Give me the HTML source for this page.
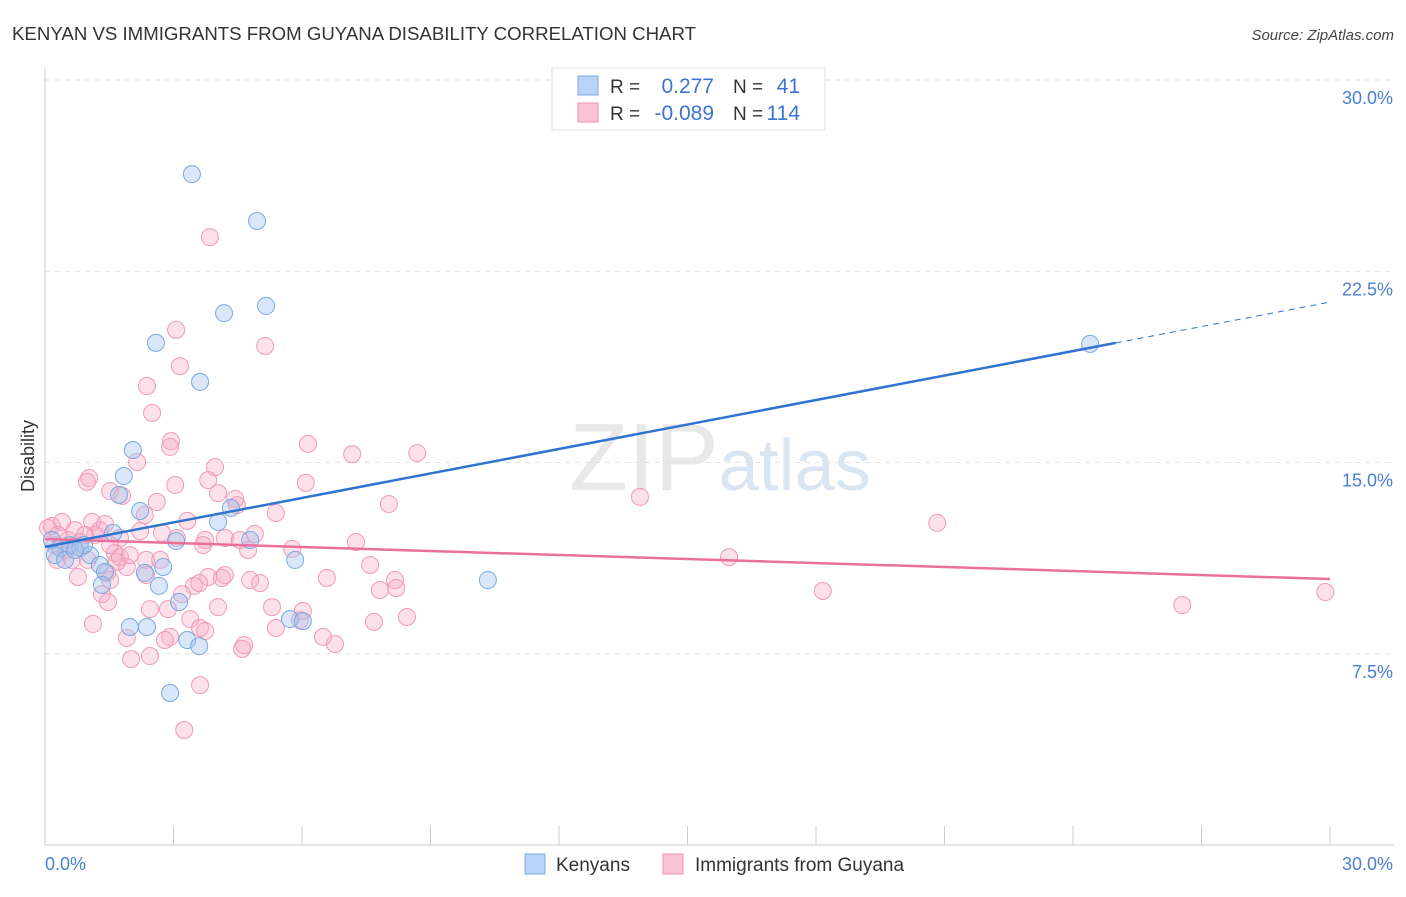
<!DOCTYPE html>
<html><head><meta charset="utf-8"><style>
body{margin:0;background:#fff;font-family:"Liberation Sans",sans-serif;}
svg text{font-family:"Liberation Sans",sans-serif;}
</style></head><body>
<svg id="chart" width="1406" height="892" xmlns="http://www.w3.org/2000/svg">
<text x="12" y="40" font-size="18" fill="#333" textLength="684" lengthAdjust="spacingAndGlyphs">KENYAN VS IMMIGRANTS FROM GUYANA DISABILITY CORRELATION CHART</text>
<text x="1394" y="40" font-size="15" fill="#444" font-style="italic" text-anchor="end">Source: ZipAtlas.com</text>
<text x="720" y="490" font-size="96" text-anchor="middle" fill="#e8e8e8" font-family="Liberation Serif"><tspan>ZIP</tspan><tspan fill="#dae5f3" font-family="Liberation Sans" font-size="72">atlas</tspan></text>
<g id="grid"></g>
<g id="axes"></g>
<g id="marks"></g>
<text transform="translate(34,456) rotate(-90)" font-size="18" fill="#333" text-anchor="middle">Disability</text>
<g>
<rect x="552" y="68" width="273" height="62" fill="#fff" stroke="#ddd"/>
<rect x="578" y="76" width="20" height="19" fill="#b8d3f5" stroke="#7aa8e0"/>
<rect x="578" y="103" width="20" height="19" fill="#f9c4d4" stroke="#f090b0"/>
<text x="610" y="93" font-size="19" fill="#333">R =</text>
<text x="714" y="93" font-size="21" fill="#3d74d0" text-anchor="end">0.277</text>
<text x="733" y="93" font-size="19" fill="#333">N =</text>
<text x="800" y="93" font-size="21" fill="#3d74d0" text-anchor="end">41</text>
<text x="610" y="120" font-size="19" fill="#333">R =</text>
<text x="714" y="120" font-size="21" fill="#3d74d0" text-anchor="end">-0.089</text>
<text x="733" y="120" font-size="19" fill="#333">N =</text>
<text x="800" y="120" font-size="21" fill="#3d74d0" text-anchor="end">114</text>
</g>
<g>
<rect x="525" y="854" width="20" height="20" fill="#b8d3f5" stroke="#7aa8e0"/>
<text x="556" y="871" font-size="19" fill="#333">Kenyans</text>
<rect x="663" y="854" width="20" height="20" fill="#f9c4d4" stroke="#f090b0"/>
<text x="695" y="871" font-size="19" fill="#333">Immigrants from Guyana</text>
</g>
</svg>
<script>
const yTicks=[7.5,15,22.5,30];
const yTickLabels=["7.5%","15.0%","22.5%","30.0%"];
const kenyanX=[3.43,4.95,5.16,4.18,2.59,3.62,24.40,2.05,1.84,1.73,2.22,4.34,4.04,3.06,4.79,1.59,0.16,0.35,0.58,0.23,0.47,0.82,1.05,1.28,1.40,2.76,2.33,2.66,5.84,10.34,1.33,1.98,2.38,3.13,3.32,3.60,5.72,6.02,2.92,0.91,0.70];
const kenyanY=[26.31,24.47,21.14,20.86,19.69,18.16,19.65,15.49,14.47,13.73,13.10,13.22,12.67,11.92,11.96,12.24,11.96,11.65,11.76,11.37,11.18,11.65,11.37,10.98,10.71,10.90,10.67,10.16,11.18,10.39,10.20,8.55,8.55,9.53,8.04,7.80,8.86,8.78,5.96,11.76,11.57];
const guyX=[3.85,3.06,5.14,3.15,2.38,2.50,2.94,2.92,2.15,6.14,7.17,8.69,1.03,0.98,3.97,3.81,1.52,1.80,2.61,4.44,4.48,4.04,6.09,8.03,13.89,20.83,5.39,3.32,0.16,0.40,0.70,1.10,1.40,1.17,1.75,2.22,2.73,3.08,3.74,4.20,4.90,4.74,5.77,7.26,15.97,0.23,0.54,0.82,0.93,0.63,1.63,1.68,1.75,2.36,2.36,1.91,1.45,0.77,1.52,3.81,4.13,4.20,3.48,3.60,5.02,6.58,7.59,8.17,8.20,18.16,26.55,29.89,1.33,1.47,2.45,2.87,3.20,4.04,5.30,6.02,3.39,1.12,3.62,3.74,1.91,2.92,5.39,7.68,8.45,6.49,6.77,4.65,4.60,2.45,2.01,3.62,3.25,2.80,0.07,0.30,1.28,4.55,1.98,2.69,5.95,1.00,0.49,0.28,1.52,2.33,3.04,3.69,4.79,7.82];
const guyY=[23.84,20.20,19.57,18.78,18.00,16.94,15.84,15.61,15.02,15.73,15.33,15.37,14.39,14.24,14.82,14.31,13.88,13.69,13.45,13.57,13.33,13.80,14.20,13.37,13.65,12.63,13.02,12.71,12.51,12.67,12.35,12.67,12.59,12.16,12.04,12.31,12.24,12.04,11.96,12.04,12.20,11.57,11.61,11.88,11.29,11.76,11.96,11.88,12.16,11.18,11.45,11.10,11.29,11.18,10.59,10.90,10.67,10.51,10.39,10.51,10.47,10.59,10.16,10.27,10.27,10.47,10.98,10.39,10.08,9.96,9.41,9.92,9.84,9.53,9.25,9.25,9.84,9.33,9.33,9.18,8.86,8.67,8.51,8.39,8.12,8.16,8.51,8.75,8.94,8.16,7.88,7.84,7.69,7.41,7.29,6.27,4.51,8.04,12.43,12.16,12.35,11.96,11.37,11.18,8.82,11.18,11.57,11.18,11.76,12.94,14.12,11.76,10.39,10.00];
const kenyanTrend=[[0,11.69],[25,19.69],[30,21.29]];
const guyTrend=[[0,12.0],[30,10.43]];
const NS="http://www.w3.org/2000/svg";
const X=v=>45+v*42.833, Y=v=>845-v*25.5;
function mk(tag,attrs,parent){const e=document.createElementNS(NS,tag);for(const k in attrs)e.setAttribute(k,attrs[k]);parent.appendChild(e);return e;}
const grid=document.getElementById('grid'),axes=document.getElementById('axes'),marks=document.getElementById('marks');
yTicks.forEach((t,i)=>{
 const l=mk('line',{x1:45,x2:1394,y1:Y(t),y2:Y(t),stroke:'#e2e2e2','stroke-dasharray':'5,5'},grid);
 
 
 const tx=mk('text',{x:1393,y:Y(t)+24,'font-size':18,fill:'#4a7fd0','text-anchor':'end'},axes);
 tx.textContent=yTickLabels[i];
 
 
});
const la=mk('line',{x1:45,x2:45,y1:68,y2:845,stroke:'#ccc'},axes);


const ba=mk('line',{x1:45,x2:1394,y1:845,y2:845,stroke:'#ccc'},axes);


for(let i=0;i<=10;i++){const t=mk('line',{x1:X(i*3),x2:X(i*3),y1:826,y2:845,stroke:'#ccc'},axes);
 
 }
const x0=mk('text',{x:45,y:870,'font-size':18,fill:'#4a7fd0'},axes);x0.textContent='0.0%';


const x1=mk('text',{x:1393,y:870,'font-size':18,fill:'#4a7fd0','text-anchor':'end'},axes);x1.textContent='30.0%';


guyX.forEach((v,i)=>{const c=mk('circle',{cx:X(v),cy:Y(guyY[i]),r:8.5,fill:'rgba(246,170,196,0.35)',stroke:'#f09ab6','stroke-width':1},marks);
 
 });
kenyanX.forEach((v,i)=>{const c=mk('circle',{cx:X(v),cy:Y(kenyanY[i]),r:8.5,fill:'rgba(160,196,240,0.4)',stroke:'#7aa8e0','stroke-width':1},marks);
 
 });
const g1=mk('line',{x1:X(guyTrend[0][0]),y1:Y(guyTrend[0][1]),x2:X(guyTrend[1][0]),y2:Y(guyTrend[1][1]),stroke:'#e8709a','stroke-width':2.5},marks);


const k1=mk('line',{x1:X(kenyanTrend[0][0]),y1:Y(kenyanTrend[0][1]),x2:X(kenyanTrend[1][0]),y2:Y(kenyanTrend[1][1]),stroke:'#2f74d0','stroke-width':2.5},marks);


const k2=mk('line',{x1:X(kenyanTrend[1][0]),y1:Y(kenyanTrend[1][1]),x2:X(kenyanTrend[2][0]),y2:Y(kenyanTrend[2][1]),stroke:'#2f74d0','stroke-width':1,'stroke-dasharray':'6,5'},marks);


</script>
</body></html>
